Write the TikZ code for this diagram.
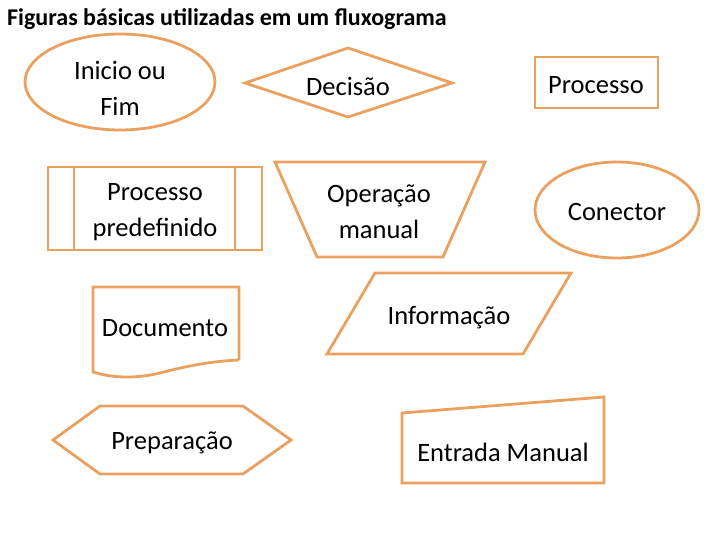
\documentclass[tikz,border=0pt]{standalone}
\usepackage{fontspec}
\setmainfont{Carlito}
\definecolor{shapeorange}{RGB}{234,161,96}
\tikzset{
  shapeline/.style={draw=shapeorange,line width=2.8pt,line join=miter},
  lbl/.style={font=\fontsize{26.5}{36}\selectfont,align=center,inner sep=0pt}
}
\begin{document}
\begin{tikzpicture}[x=1pt,y=-1pt]
    \useasboundingbox (0,0) rectangle (720,540);

    % Title
    \node[anchor=west,inner sep=0pt,font=\fontsize{24}{28}\selectfont\bfseries] (title) at (7,19) {Figuras básicas utilizadas em um fluxograma};

    % Inicio ou Fim
    \draw[shapeline] (120,82) ellipse (95 and 48);
    \node[lbl] (inicio) at (120,88) {Inicio ou\\Fim};

    % Decisao
    \draw[shapeline] (245,83) -- (348,48) -- (452,83) -- (348,117) -- cycle;
    \node[lbl] (decisao) at (348,86) {Decisão};

    % Processo
    \draw[shapeline] (535,57) rectangle (658,108);
    \node[lbl] (processo) at (596,85) {Processo};

    % Processo predefinido
    \draw[shapeline] (48,167) rectangle (262,250);
    \draw[shapeline] (74,167) -- (74,250);
    \draw[shapeline] (235,167) -- (235,250);
    \node[lbl] (predef) at (155,212) {Processo\\predefinido};

    % Operacao manual
    \draw[shapeline] (275,162) -- (485,162) -- (443,257) -- (317,257) -- cycle;
    \node[lbl] (manual) at (379,212) {Operação\\manual};

    % Conector
    \draw[shapeline] (617,210) ellipse (82 and 48);
    \node[lbl] (conector) at (617,212) {Conector};

    % Documento
    \draw[shapeline] (239,360) -- (239,287) -- (93,287) -- (93,372)
        .. controls (112,378) and (135,379) .. (160,373)
        .. controls (190,365) and (215,361) .. (239,360);
    \node[lbl] (documento) at (165,328) {Documento};

    % Informacao
    \draw[shapeline] (375,273) -- (571,273) -- (523,354) -- (327,354) -- cycle;
    \node[lbl] (informacao) at (449,318) {Informação};

    % Preparacao
    \draw[shapeline] (53,440) -- (100,406) -- (243,406) -- (291,440) -- (243,474) -- (100,474) -- cycle;
    \node[lbl] (preparacao) at (172,443) {Preparação};

    % Entrada manual
    \draw[shapeline] (402,413) -- (604,397) -- (604,483) -- (402,483) -- cycle;
    \node[lbl] (entrada) at (503,452) {Entrada Manual};
\end{tikzpicture}
\end{document}
